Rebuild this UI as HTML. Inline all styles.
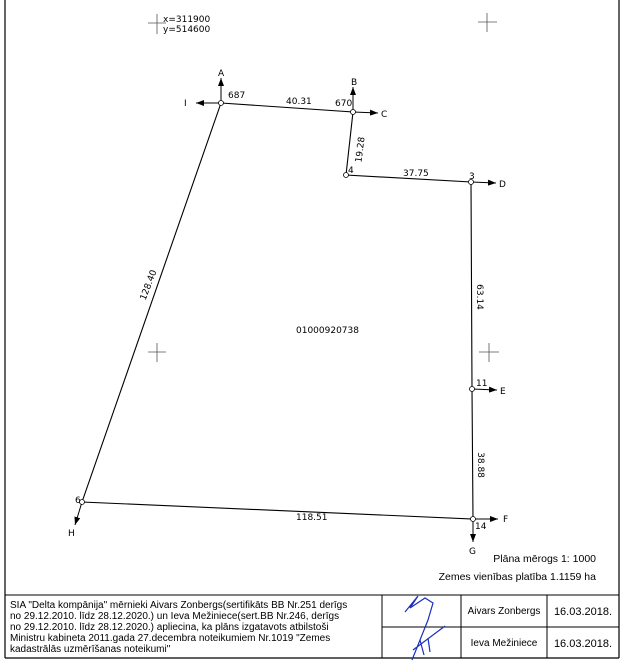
<!DOCTYPE html>
<html><head><meta charset="utf-8"><style>
html,body{margin:0;padding:0;background:#fff;}
svg{display:block;font-family:"DejaVu Sans","Liberation Sans",sans-serif;}
.t{font-family:"Liberation Sans",sans-serif;}
</style></head><body>
<svg width="623" height="670" viewBox="0 0 623 670" xmlns="http://www.w3.org/2000/svg">
<defs><marker id="ar" markerWidth="8" markerHeight="6" refX="8" refY="3" orient="auto" markerUnits="userSpaceOnUse"><path d="M0,0 L8,3 L0,6z" fill="#000"/></marker></defs>
<g stroke="#000" fill="none">
<line x1="5" y1="0" x2="5" y2="658" stroke-width="1.2"/>
<line x1="619" y1="0" x2="619" y2="658" stroke-width="1.2"/>
<line x1="5" y1="595" x2="619" y2="595"/>
<line x1="5" y1="658" x2="619" y2="658" stroke-width="1.2"/>
<line x1="382" y1="595" x2="382" y2="658"/>
<line x1="382" y1="627" x2="619" y2="627"/>
<line x1="461" y1="595" x2="461" y2="658"/>
<line x1="547" y1="595" x2="547" y2="658"/>
</g>
<g stroke="#555" stroke-width="0.8">
<line x1="148" y1="23" x2="166" y2="23"/><line x1="157" y1="14" x2="157" y2="34"/>
<line x1="478" y1="22" x2="497" y2="22"/><line x1="487" y1="13" x2="487" y2="32"/>
<line x1="148" y1="352" x2="166" y2="352"/><line x1="157" y1="343" x2="157" y2="362"/>
<line x1="479" y1="352" x2="499" y2="352"/><line x1="489" y1="343" x2="489" y2="362"/>
</g>
<text x="163" y="22" font-size="9">x=311900</text>
<text x="163" y="32" font-size="9">y=514600</text>
<g stroke="#000" stroke-width="1.1" fill="none">
<polyline points="221,103 353,112 346,175 471,182 472,389 473,519 82,502 221,103"/>
</g>
<g stroke="#000" stroke-width="1">
<line x1="221" y1="103" x2="221" y2="78" marker-end="url(#ar)"/>
<line x1="221" y1="103" x2="196" y2="103" marker-end="url(#ar)"/>
<line x1="353" y1="112" x2="353" y2="87" marker-end="url(#ar)"/>
<line x1="353" y1="112" x2="378" y2="113" marker-end="url(#ar)"/>
<line x1="471" y1="182" x2="496" y2="183" marker-end="url(#ar)"/>
<line x1="472" y1="389" x2="497" y2="390" marker-end="url(#ar)"/>
<line x1="473" y1="519" x2="498" y2="519" marker-end="url(#ar)"/>
<line x1="473" y1="519" x2="473" y2="542" marker-end="url(#ar)"/>
<line x1="82" y1="502" x2="75" y2="525" marker-end="url(#ar)"/>
</g>
<g fill="#fff" stroke="#000" stroke-width="0.8">
<circle cx="221" cy="103" r="2.5"/><circle cx="353" cy="112" r="2.5"/><circle cx="346" cy="175" r="2.5"/>
<circle cx="471" cy="182" r="2.5"/><circle cx="472" cy="389" r="2.5"/><circle cx="473" cy="519" r="2.5"/><circle cx="82" cy="502" r="2.5"/>
</g>
<g font-size="9">
<text x="218" y="76">A</text><text x="184" y="106">I</text><text x="228" y="98">687</text>
<text x="286" y="104">40.31</text><text x="335" y="106">670</text>
<text x="351" y="85">B</text><text x="381" y="117">C</text>
<text x="348" y="173">4</text><text x="403" y="176">37.75</text><text x="469" y="179">3</text>
<text x="499" y="187">D</text><text x="476" y="386">11</text><text x="500" y="394">E</text>
<text x="475" y="529">14</text><text x="503" y="522">F</text><text x="469" y="554">G</text>
<text x="75" y="503">6</text><text x="68" y="536">H</text>
<text x="296" y="520">118.51</text>
<text x="296" y="333">01000920738</text>
<text transform="translate(363,150) rotate(-83)" text-anchor="middle">19.28</text>
<text transform="translate(151,286) rotate(-69)" text-anchor="middle">128.40</text>
<text transform="translate(477,297) rotate(90)" text-anchor="middle">63.14</text>
<text transform="translate(478,465) rotate(90)" text-anchor="middle">38.88</text>
</g>
<g font-size="10.5" class="t">
<text x="596" y="562" text-anchor="end">Plāna mērogs 1: 1000</text>
<text x="596" y="580" text-anchor="end">Zemes vienības platība 1.1159 ha</text>
</g>
<g font-size="10" class="t">
<text x="10" y="608">SIA "Delta kompānija" mērnieki Aivars Zonbergs(sertifikāts BB Nr.251 derīgs</text>
<text x="10" y="619">no 29.12.2010. līdz 28.12.2020.) un Ieva Mežiniece(sert.BB Nr.246, derīgs</text>
<text x="10" y="630">no 29.12.2010. līdz 28.12.2020.) apliecina, ka plāns izgatavots atbilstoši</text>
<text x="10" y="641">Ministru kabineta 2011.gada 27.decembra noteikumiem Nr.1019 "Zemes</text>
<text x="10" y="652">kadastrālās uzmērīšanas noteikumi"</text>
<text x="504" y="614" text-anchor="middle">Aivars Zonbergs</text>
<text x="504" y="646" text-anchor="middle">Ieva Mežiniece</text>
<text x="583" y="615" text-anchor="middle" font-size="11">16.03.2018.</text>
<text x="583" y="647" text-anchor="middle" font-size="11">16.03.2018.</text>
</g>
<path d="M405,612 L418,596 L410,608 L425,598 L433,603 L428,620 L420,640 L412,660 M413,650 L445,626 M420,640 L424,655 M428,638 L430,652" stroke="#1a2fbf" stroke-width="1.2" fill="none"/>
</svg>
</body></html>
